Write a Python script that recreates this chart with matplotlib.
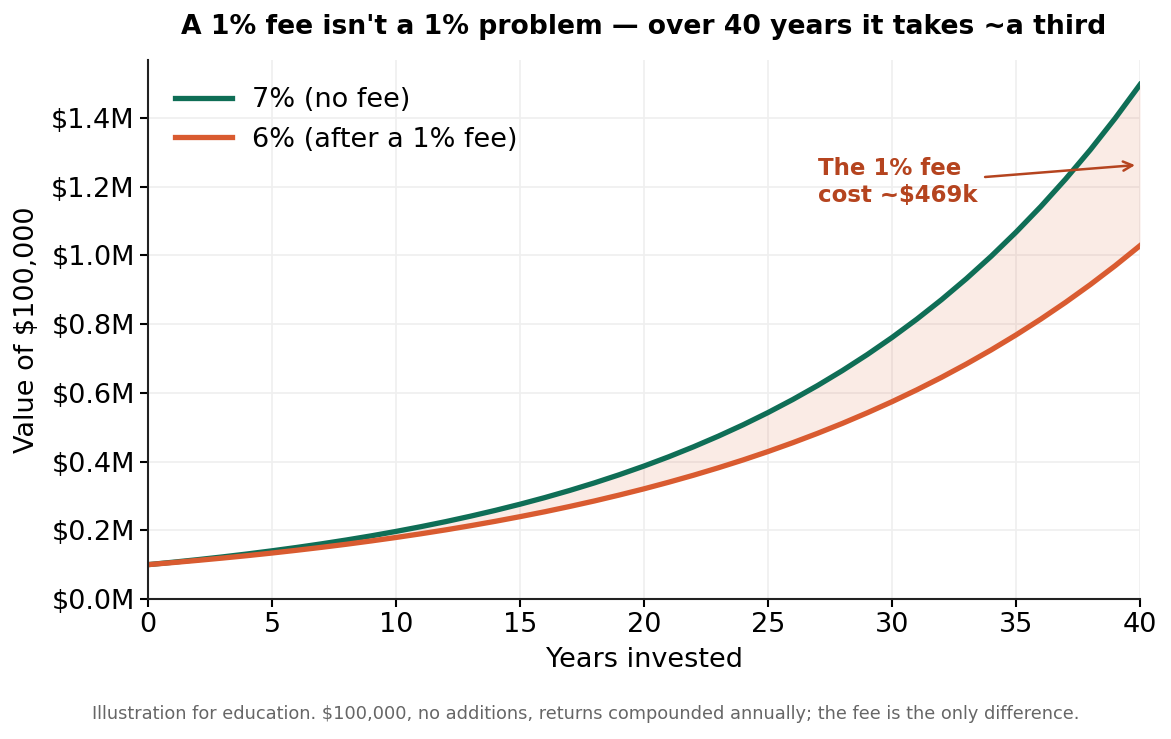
import matplotlib
matplotlib.use("Agg")
import matplotlib.pyplot as plt
from matplotlib.ticker import FuncFormatter

# values, in $ thousands, one per year 0..40
years = list(range(41))
no_fee = [100.0, 107.0, 114.5, 122.5, 131.1, 140.3, 150.1, 160.6, 171.8, 183.8,
          196.7, 210.5, 225.2, 241.0, 257.9, 275.9, 295.2, 315.9, 338.0, 361.7,
          387.0, 414.1, 443.1, 474.1, 507.2, 542.7, 580.7, 621.4, 664.9, 711.4,
          761.2, 814.5, 871.5, 932.5, 997.8, 1067.7, 1142.4, 1222.4, 1307.9, 1399.5,
          1497.4]
with_fee = [100.0, 106.0, 112.4, 119.1, 126.2, 133.8, 141.9, 150.4, 159.4, 169.0,
            179.1, 189.8, 201.2, 213.3, 226.1, 239.7, 254.0, 269.3, 285.4, 302.6,
            320.7, 340.0, 360.4, 382.0, 404.9, 429.2, 455.0, 482.3, 511.2, 541.9,
            574.3, 608.8, 645.3, 684.1, 725.1, 768.6, 814.7, 863.6, 915.4, 970.3,
            1028.6]
labels = ["7% (no fee)", "6% (after a 1% fee)"]

green = "#0f6e56"
orange = "#d95b30"
rust = "#b5441f"

fig = plt.figure(figsize=(11.71, 7.39), dpi=100)
ax = fig.add_axes([148/1171, 1-599/739, (1140-148)/1171, (599-60)/739])

y1 = [v*1000 for v in no_fee]
y2 = [v*1000 for v in with_fee]
ax.fill_between(years, y2, y1, color=orange, alpha=0.12, linewidth=0)
ax.plot(years, y1, color=green, lw=3.8, label=labels[0])
ax.plot(years, y2, color=orange, lw=3.8, label=labels[1])

ax.set_xlim(0, 40)
ax.set_ylim(0, 1569000)
ax.set_yticks([i*200000 for i in range(8)])
ax.yaxis.set_major_formatter(FuncFormatter(lambda v, p: f"${v/1e6:.1f}M"))
ax.grid(True, color="#efefef", lw=1.2)
ax.set_axisbelow(True)
for s in ["top", "right"]:
    ax.spines[s].set_visible(False)
for s in ["left", "bottom"]:
    ax.spines[s].set_linewidth(1.5)
    ax.spines[s].set_color("#222222")
ax.tick_params(labelsize=19.5, width=1.5, length=6)

ax.set_xlabel("Years invested", fontsize=19.5, labelpad=6)
ax.set_ylabel("Value of $100,000", fontsize=19.5, labelpad=8)
ax.set_title("A 1% fee isn't a 1% problem \u2014 over 40 years it takes ~a third",
             fontsize=19.2, fontweight="bold", pad=19)

leg = ax.legend(loc="upper left", fontsize=19.5, frameon=False, handlelength=2.1,
                borderaxespad=0.6, labelspacing=0.5, handletextpad=0.75)

gap = (no_fee[-1] - with_fee[-1])
mid = (y1[-1] + y2[-1]) / 2
ax.annotate(f"The 1% fee\ncost ~${gap:.0f}k", xy=(39.8, mid), xytext=(27.0, 1214000),
            fontsize=16.5, fontweight="bold", color=rust, va="center", ha="left",
            arrowprops=dict(arrowstyle="->", color=rust, lw=1.8,
                            shrinkA=0, shrinkB=0, relpos=(1.05, 0.6)))

fig.text(0.5, 1-714/739, "Illustration for education. $100,000, no additions, returns compounded annually; the fee is the only difference.",
         ha="center", va="center", fontsize=12.8, color="#666666")

fig.savefig("out.png", dpi=100)
